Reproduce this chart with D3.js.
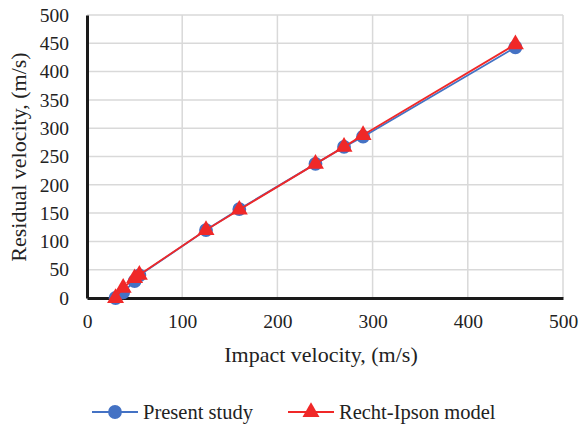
<!DOCTYPE html>
<html>
<head>
<meta charset="utf-8">
<script src="https://cdn.jsdelivr.net/npm/d3@7"></script>
<style>
  body { margin: 0; background: #fff; }
  text { font-family: "Liberation Serif", "Times New Roman", serif; fill: #222; }
</style>
</head>
<body>
<svg id="chart" width="580" height="424"></svg>
<script>
const xTicks = [0, 100, 200, 300, 400, 500];
const yTicks = [0, 50, 100, 150, 200, 250, 300, 350, 400, 450, 500];

// impact velocity vs residual velocity
const presentImpact = [30, 38, 50, 55, 125, 160, 240, 270, 290, 450];
const presentResidual = [0, 10, 30, 40, 120, 157, 237, 267, 285, 443];

const rechtImpact = [30, 38, 50, 55, 125, 160, 240, 270, 290, 450];
const rechtResidual = [0, 18, 35, 41, 120, 156, 237, 267, 288, 448];

const BLUE = '#4472c4';
const RED = '#f02828';

let svg = d3.select('#chart');

let x = d3.scaleLinear().domain([0, 500]).range([87, 563]);
let y = d3.scaleLinear().domain([0, 500]).range([298, 15]);

// grid
let gridG = svg.append('g').attr('id', 'grid-g');
gridG.selectAll('.vgrid').data(xTicks.slice(1))
    .enter().append('line')
    .attr('x1', d => x(d)).attr('x2', d => x(d))
    .attr('y1', y(0)).attr('y2', y(500))
    .attr('stroke', '#d9d9d9').attr('stroke-width', 1.5);
gridG.selectAll('.hgrid').data(yTicks.slice(1))
    .enter().append('line')
    .attr('x1', x(0)).attr('x2', x(500))
    .attr('y1', d => y(d)).attr('y2', d => y(d))
    .attr('stroke', '#d9d9d9').attr('stroke-width', 1.5);

// axes
let xAxis = svg.append('g')
    .attr('transform', `translate(0,${y(0)})`)
    .call(d3.axisBottom(x).tickValues(xTicks).tickSize(0).tickPadding(16));
let yAxis = svg.append('g')
    .attr('transform', `translate(${x(0)},0)`)
    .call(d3.axisLeft(y).tickValues(yTicks).tickSize(0).tickPadding(18));

[xAxis, yAxis].forEach(a => {
    a.select('.domain').attr('stroke', '#1a1a1a').attr('stroke-width', 3);
    a.selectAll('text').style('font-size', '19.5px').style('font-family', '"Liberation Serif", serif').attr('fill', '#222');
});

// series
function drawSeries(xs, ys, color, marker) {
    let pts = xs.map((v, i) => [v, ys[i]]);
    svg.append('path')
        .datum(pts)
        .attr('fill', 'none')
        .attr('stroke', color)
        .attr('stroke-width', 1.8)
        .attr('d', d3.line().x(d => x(d[0])).y(d => y(d[1])));
    svg.append('g').selectAll('path').data(pts)
        .enter().append('path')
        .attr('transform', d => `translate(${x(d[0])},${y(d[1])})`)
        .attr('d', d3.symbol().type(marker).size(marker === d3.symbolCircle ? 150 : 125))
        .attr('fill', color);
}
drawSeries(presentImpact, presentResidual, BLUE, d3.symbolCircle);
drawSeries(rechtImpact, rechtResidual, RED, d3.symbolTriangle);

// axis titles
svg.append('text')
    .attr('x', 321).attr('y', 362)
    .attr('text-anchor', 'middle')
    .style('font-size', '22px')
    .text('Impact velocity, (m/s)');
svg.append('text')
    .attr('transform', 'translate(26,157) rotate(-90)')
    .attr('text-anchor', 'middle')
    .style('font-size', '22px')
    .text('Residual velocity, (m/s)');

// legend
const legendItems = [
    { label: 'Present study', color: BLUE, marker: d3.symbolCircle, x0: 92 },
    { label: 'Recht-Ipson model', color: RED, marker: d3.symbolTriangle, x0: 288 }
];
let legend = svg.append('g');
legendItems.forEach(item => {
    legend.append('line')
        .attr('x1', item.x0).attr('x2', item.x0 + 46)
        .attr('y1', 412).attr('y2', 412)
        .attr('stroke', item.color).attr('stroke-width', 1.8);
    legend.append('path')
        .attr('transform', `translate(${item.x0 + 23},412)`)
        .attr('d', d3.symbol().type(item.marker).size(item.marker === d3.symbolCircle ? 150 : 125))
        .attr('fill', item.color);
    legend.append('text')
        .attr('x', item.x0 + 51).attr('y', 419)
        .style('font-size', '20.5px')
        .text(item.label);
});
</script>
</body>
</html>
